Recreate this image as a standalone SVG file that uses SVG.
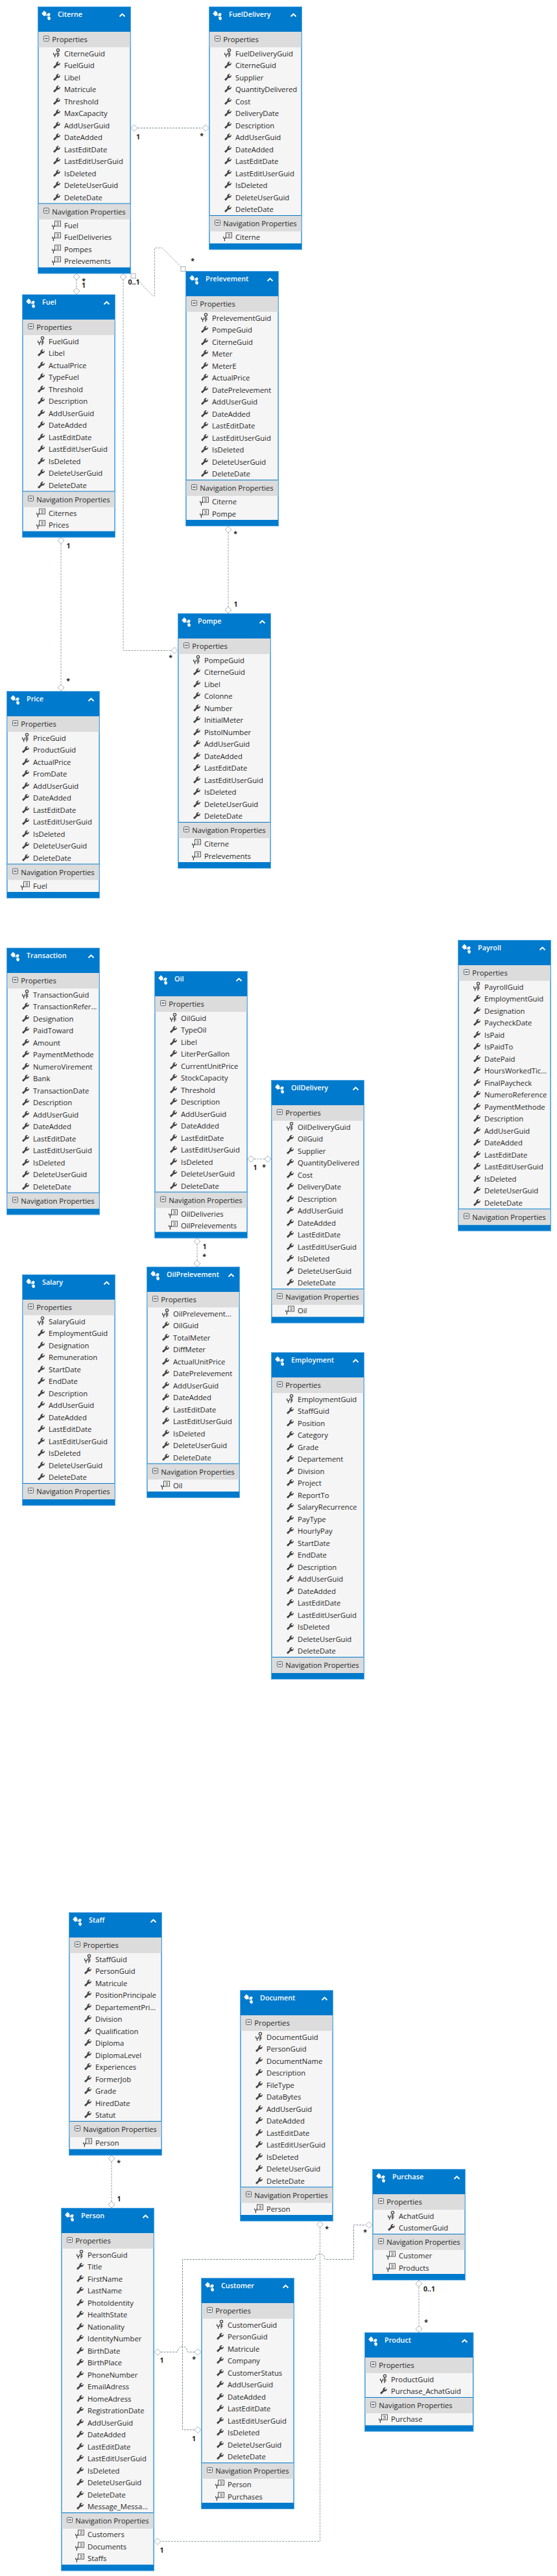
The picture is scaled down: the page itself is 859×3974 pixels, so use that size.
<svg xmlns="http://www.w3.org/2000/svg" width="859" height="3974" viewBox="0 0 859 3974">
<style>
text{font-family:"Open Sans","Noto Sans","Liberation Sans",sans-serif;font-size:11.25px;fill:#262626}
.t{font-size:10.8px;font-weight:600;fill:#fff}
.o{fill:#007acc;stroke:#5aa9e3;stroke-width:1}
.b{fill:#f5f5f5}
.p{fill:#dcdcdc}
.l{fill:#0078cc}
.c{fill:none;stroke:#98a2ac;stroke-width:1;stroke-dasharray:3 1.5}
.c2{stroke:#7f8b96}
.n{font-size:10.5px;font-weight:700;fill:#1e1e1e;text-anchor:middle}
.d{fill:#fff;stroke:#a6aeb6;stroke-width:1}
</style>
<defs>
<path id="w" fill="#424242" d="M24 -1.5L28.5 -5.5C28 -8 30 -10.5 33 -10L30.8 -7.6L32.3 -6L34.8 -8.2C35.2 -5 33 -3.2 30.3 -3.8L26 .8Z"/>
<g id="k" fill="none" stroke="#424242" stroke-width="1.3"><circle cx="31.5" cy="-9.5" r="2.1"/><path d="M31 -7.5V1.2M31 -4.5H33.5M31 -2H33.5M24.6 -5.5V-3.2L26.6 -1.6V1.5M28.6 -5.5V-3.2L26.6 -1.6"/></g>
<g id="v"><rect x="26.5" y="-11" width="9" height="8" fill="#f5f5f5" stroke="#555" stroke-width="1"/><path d="M29 -8.6H33M30 -6.8H33.5M29 -5H33" stroke="#555" stroke-width=".8" fill="none"/><path d="M22.6 -5V-3.4L24.4 -2V2M26.2 -5V-3.4L24.4 -2" stroke="#424242" stroke-width="1.2" fill="none"/></g>
<g id="m"><rect x="9.5" y="0.5" width="8" height="8" rx="1" fill="#e4e4e4" stroke="#5a6a78" stroke-width="1"/><path d="M11.5 4.5H15.5" stroke="#333" stroke-width="1.2"/></g>
<g id="e" fill="#fff"><path d="M6.2 11L10 6.6L13.4 9.4V13.2L10 15Z"/><path d="M14 12L17.4 9.8L19.8 11.4L18.6 14.6L16 14.8Z"/><path d="M14.8 17L18 15.6L20.2 17.6L19 21L16 20.6Z"/><path d="M12.4 13L15.8 15M17.6 14L17.4 17" stroke="#fff" stroke-width="1"/></g>
<path id="h" d="M126.5 15.5L130.5 11.5L134.5 15.5" fill="none" stroke="#fff" stroke-width="1.9"/>
<g id="top"><rect class="p" x="1.5" y="39" width="141" height="24"/><use href="#m" y="45"/><use href="#e"/><use href="#h"/></g>
<g id="nb"><rect class="p" x="1.5" y="1" width="141" height="24"/><rect class="l" x="1.5" y="0" width="141" height="1"/><use href="#m" y="7"/></g>
<polygon id="dm" class="d" points="0,-5 5,0 0,5 -5,0"/>
<rect id="sq" class="d" x="-3.5" y="-3.5" width="7" height="7"/>
</defs>
<g id="connectors">
<path class="c c2" d="M212 197.5H312"/>
<path class="c" d="M118 431V444"/>
<path class="c" d="M190 431V1003.5H264"/>
<path class="c" d="M208 428L236 456.5H238.5V382.5H250L280 412.5"/>
<path class="c" d="M352 821V936"/>
<path class="c" d="M94 839V1056"/>
<path class="c" d="M392 1788H408"/>
<path class="c" d="M304 1919V1944"/>
<path class="c" d="M172 3335V3396"/>
<path class="c c2" d="M248 3628.5H273C274 3628.5 274.5 3627 274.5 3625.5C275 3622 278 3620 281.5 3620C285 3620 288 3622 288.5 3625.5C288.5 3627 289 3628.5 290 3628.5H300"/>
<path class="c c2" d="M300 3748.5H281.5V3485.5H485C486 3485.5 486.5 3484 486.5 3482.5C487 3479 490 3477 493.5 3477C497 3477 500 3479 500.5 3482.5C500.5 3484 501 3485.5 502 3485.5H545.5V3432.5H564"/>
<path class="c" d="M493.5 3436V3920.5H248"/>
<path class="c" d="M646 3528V3588"/>
<use href="#dm" x="207" y="197.5"/><use href="#dm" x="317" y="197.5"/>
<use href="#dm" x="118" y="427"/><use href="#dm" x="118" y="449"/>
<use href="#dm" x="190" y="427"/><use href="#dm" x="269" y="1003.5"/>
<use href="#sq" x="205.5" y="425.5"/><use href="#sq" x="282.5" y="415"/>
<use href="#dm" x="352" y="817"/><use href="#dm" x="352" y="941"/>
<use href="#dm" x="94" y="834"/><use href="#dm" x="94" y="1061"/>
<use href="#dm" x="387" y="1788"/><use href="#dm" x="413" y="1788"/>
<use href="#dm" x="304" y="1915"/><use href="#dm" x="304" y="1949"/>
<use href="#dm" x="172" y="3330"/><use href="#dm" x="172" y="3401"/>
<use href="#dm" x="243" y="3628.5"/><use href="#dm" x="305" y="3628.5"/>
<use href="#dm" x="305" y="3748.5"/><use href="#dm" x="569" y="3432.5"/>
<use href="#dm" x="493.5" y="3431.5"/><use href="#dm" x="243" y="3920.5"/>
<use href="#dm" x="646" y="3523"/><use href="#dm" x="646" y="3593"/>
<text class="n" x="213" y="215">1</text><text class="n" x="311" y="213">*</text>
<text class="n" x="129" y="437">*</text><text class="n" x="129" y="444">1</text>
<text class="n" x="206.5" y="439">0..1</text><text class="n" x="263" y="1018">*</text>
<text class="n" x="297" y="406">*</text>
<text class="n" x="363" y="827">*</text><text class="n" x="363.5" y="936">1</text>
<text class="n" x="105.5" y="846">1</text><text class="n" x="105" y="1054">*</text>
<text class="n" x="393.5" y="1805">1</text><text class="n" x="407" y="1804">*</text>
<text class="n" x="315.5" y="1927">1</text><text class="n" x="315" y="1942">*</text>
<text class="n" x="183" y="3340">*</text><text class="n" x="183.5" y="3396">1</text>
<text class="n" x="249.5" y="3645">1</text><text class="n" x="299" y="3643">*</text>
<text class="n" x="299" y="3766">1</text><text class="n" x="563" y="3447">*</text>
<text class="n" x="504" y="3442">*</text><text class="n" x="249.5" y="3938">1</text>
<text class="n" x="662" y="3535">0..1</text><text class="n" x="657" y="3586">*</text>
</g>
<g id="Citerne" transform="translate(58,10)"><rect class="o" x=".5" y=".5" width="143" height="411.5"/><rect class="b" x="1.5" y="39" width="141" height="363.5"/><use href="#top"/><text class="t" x="31" y="16">Citerne</text><text x="22.3" y="55">Properties</text>
<use href="#k" y="77"/><text x="41" y="77">CiterneGuid</text>
<use href="#w" y="95"/><text x="41" y="95">FuelGuid</text>
<use href="#w" y="114"/><text x="41" y="114">Libel</text>
<use href="#w" y="132"/><text x="41" y="132">Matricule</text>
<use href="#w" y="151"/><text x="41" y="151">Threshold</text>
<use href="#w" y="169"/><text x="41" y="169">MaxCapacity</text>
<use href="#w" y="188"/><text x="41" y="188">AddUserGuid</text>
<use href="#w" y="206"/><text x="41" y="206">DateAdded</text>
<use href="#w" y="225"/><text x="41" y="225">LastEditDate</text>
<use href="#w" y="243"/><text x="41" y="243">LastEditUserGuid</text>
<use href="#w" y="262"/><text x="41" y="262">IsDeleted</text>
<use href="#w" y="280"/><text x="41" y="280">DeleteUserGuid</text>
<use href="#w" y="299"/><text x="41" y="299">DeleteDate</text>
<use href="#nb" y="303.5"/><text x="22.3" y="320.5">Navigation Properties</text>
<use href="#v" y="342"/><text x="41" y="342">Fuel</text>
<use href="#v" y="360"/><text x="41" y="360">FuelDeliveries</text>
<use href="#v" y="379"/><text x="41" y="379">Pompes</text>
<use href="#v" y="397"/><text x="41" y="397">Prelevements</text></g>
<g id="FuelDelivery" transform="translate(322,10)"><rect class="o" x=".5" y=".5" width="143" height="374.5"/><rect class="b" x="1.5" y="39" width="141" height="326.5"/><use href="#top"/><text class="t" x="31" y="16">FuelDelivery</text><text x="22.3" y="55">Properties</text>
<use href="#k" y="77"/><text x="41" y="77">FuelDeliveryGuid</text>
<use href="#w" y="95"/><text x="41" y="95">CiterneGuid</text>
<use href="#w" y="114"/><text x="41" y="114">Supplier</text>
<use href="#w" y="132"/><text x="41" y="132">QuantityDelivered</text>
<use href="#w" y="151"/><text x="41" y="151">Cost</text>
<use href="#w" y="169"/><text x="41" y="169">DeliveryDate</text>
<use href="#w" y="188"/><text x="41" y="188">Description</text>
<use href="#w" y="206"/><text x="41" y="206">AddUserGuid</text>
<use href="#w" y="225"/><text x="41" y="225">DateAdded</text>
<use href="#w" y="243"/><text x="41" y="243">LastEditDate</text>
<use href="#w" y="262"/><text x="41" y="262">LastEditUserGuid</text>
<use href="#w" y="280"/><text x="41" y="280">IsDeleted</text>
<use href="#w" y="299"/><text x="41" y="299">DeleteUserGuid</text>
<use href="#w" y="317"/><text x="41" y="317">DeleteDate</text>
<use href="#nb" y="322"/><text x="22.3" y="339">Navigation Properties</text>
<use href="#v" y="360"/><text x="41" y="360">Citerne</text></g>
<g id="Prelevement" transform="translate(286,418)"><rect class="o" x=".5" y=".5" width="143" height="393"/><rect class="b" x="1.5" y="39" width="141" height="345"/><use href="#top"/><text class="t" x="31" y="16">Prelevement</text><text x="22.3" y="55">Properties</text>
<use href="#k" y="77"/><text x="41" y="77">PrelevementGuid</text>
<use href="#w" y="95"/><text x="41" y="95">PompeGuid</text>
<use href="#w" y="114"/><text x="41" y="114">CiterneGuid</text>
<use href="#w" y="132"/><text x="41" y="132">Meter</text>
<use href="#w" y="151"/><text x="41" y="151">MeterE</text>
<use href="#w" y="169"/><text x="41" y="169">ActualPrice</text>
<use href="#w" y="188"/><text x="41" y="188">DatePrelevement</text>
<use href="#w" y="206"/><text x="41" y="206">AddUserGuid</text>
<use href="#w" y="225"/><text x="41" y="225">DateAdded</text>
<use href="#w" y="243"/><text x="41" y="243">LastEditDate</text>
<use href="#w" y="262"/><text x="41" y="262">LastEditUserGuid</text>
<use href="#w" y="280"/><text x="41" y="280">IsDeleted</text>
<use href="#w" y="299"/><text x="41" y="299">DeleteUserGuid</text>
<use href="#w" y="317"/><text x="41" y="317">DeleteDate</text>
<use href="#nb" y="322"/><text x="22.3" y="339">Navigation Properties</text>
<use href="#v" y="360"/><text x="41" y="360">Citerne</text>
<use href="#v" y="379"/><text x="41" y="379">Pompe</text></g>
<g id="Fuel" transform="translate(34,454)"><rect class="o" x=".5" y=".5" width="143" height="374.5"/><rect class="b" x="1.5" y="39" width="141" height="326.5"/><use href="#top"/><text class="t" x="31" y="16">Fuel</text><text x="22.3" y="55">Properties</text>
<use href="#k" y="77"/><text x="41" y="77">FuelGuid</text>
<use href="#w" y="95"/><text x="41" y="95">Libel</text>
<use href="#w" y="114"/><text x="41" y="114">ActualPrice</text>
<use href="#w" y="132"/><text x="41" y="132">TypeFuel</text>
<use href="#w" y="151"/><text x="41" y="151">Threshold</text>
<use href="#w" y="169"/><text x="41" y="169">Description</text>
<use href="#w" y="188"/><text x="41" y="188">AddUserGuid</text>
<use href="#w" y="206"/><text x="41" y="206">DateAdded</text>
<use href="#w" y="225"/><text x="41" y="225">LastEditDate</text>
<use href="#w" y="243"/><text x="41" y="243">LastEditUserGuid</text>
<use href="#w" y="262"/><text x="41" y="262">IsDeleted</text>
<use href="#w" y="280"/><text x="41" y="280">DeleteUserGuid</text>
<use href="#w" y="299"/><text x="41" y="299">DeleteDate</text>
<use href="#nb" y="303.5"/><text x="22.3" y="320.5">Navigation Properties</text>
<use href="#v" y="342"/><text x="41" y="342">Citernes</text>
<use href="#v" y="360"/><text x="41" y="360">Prices</text></g>
<g id="Price" transform="translate(10,1066)"><rect class="o" x=".5" y=".5" width="143" height="319"/><rect class="b" x="1.5" y="39" width="141" height="271"/><use href="#top"/><text class="t" x="31" y="16">Price</text><text x="22.3" y="55">Properties</text>
<use href="#k" y="77"/><text x="41" y="77">PriceGuid</text>
<use href="#w" y="95"/><text x="41" y="95">ProductGuid</text>
<use href="#w" y="114"/><text x="41" y="114">ActualPrice</text>
<use href="#w" y="132"/><text x="41" y="132">FromDate</text>
<use href="#w" y="151"/><text x="41" y="151">AddUserGuid</text>
<use href="#w" y="169"/><text x="41" y="169">DateAdded</text>
<use href="#w" y="188"/><text x="41" y="188">LastEditDate</text>
<use href="#w" y="206"/><text x="41" y="206">LastEditUserGuid</text>
<use href="#w" y="225"/><text x="41" y="225">IsDeleted</text>
<use href="#w" y="243"/><text x="41" y="243">DeleteUserGuid</text>
<use href="#w" y="262"/><text x="41" y="262">DeleteDate</text>
<use href="#nb" y="266.5"/><text x="22.3" y="283.5">Navigation Properties</text>
<use href="#v" y="305"/><text x="41" y="305">Fuel</text></g>
<g id="Pompe" transform="translate(274,946)"><rect class="o" x=".5" y=".5" width="143" height="393"/><rect class="b" x="1.5" y="39" width="141" height="345"/><use href="#top"/><text class="t" x="31" y="16">Pompe</text><text x="22.3" y="55">Properties</text>
<use href="#k" y="77"/><text x="41" y="77">PompeGuid</text>
<use href="#w" y="95"/><text x="41" y="95">CiterneGuid</text>
<use href="#w" y="114"/><text x="41" y="114">Libel</text>
<use href="#w" y="132"/><text x="41" y="132">Colonne</text>
<use href="#w" y="151"/><text x="41" y="151">Number</text>
<use href="#w" y="169"/><text x="41" y="169">InitialMeter</text>
<use href="#w" y="188"/><text x="41" y="188">PistolNumber</text>
<use href="#w" y="206"/><text x="41" y="206">AddUserGuid</text>
<use href="#w" y="225"/><text x="41" y="225">DateAdded</text>
<use href="#w" y="243"/><text x="41" y="243">LastEditDate</text>
<use href="#w" y="262"/><text x="41" y="262">LastEditUserGuid</text>
<use href="#w" y="280"/><text x="41" y="280">IsDeleted</text>
<use href="#w" y="299"/><text x="41" y="299">DeleteUserGuid</text>
<use href="#w" y="317"/><text x="41" y="317">DeleteDate</text>
<use href="#nb" y="322"/><text x="22.3" y="339">Navigation Properties</text>
<use href="#v" y="360"/><text x="41" y="360">Citerne</text>
<use href="#v" y="379"/><text x="41" y="379">Prelevements</text></g>
<g id="Transaction" transform="translate(10,1462)"><rect class="o" x=".5" y=".5" width="143" height="411.5"/><rect class="b" x="1.5" y="39" width="141" height="363.5"/><use href="#top"/><text class="t" x="31" y="16">Transaction</text><text x="22.3" y="55">Properties</text>
<use href="#k" y="77"/><text x="41" y="77">TransactionGuid</text>
<use href="#w" y="95"/><text x="41" y="95">TransactionRefer...</text>
<use href="#w" y="114"/><text x="41" y="114">Designation</text>
<use href="#w" y="132"/><text x="41" y="132">PaidToward</text>
<use href="#w" y="151"/><text x="41" y="151">Amount</text>
<use href="#w" y="169"/><text x="41" y="169">PaymentMethode</text>
<use href="#w" y="188"/><text x="41" y="188">NumeroVirement</text>
<use href="#w" y="206"/><text x="41" y="206">Bank</text>
<use href="#w" y="225"/><text x="41" y="225">TransactionDate</text>
<use href="#w" y="243"/><text x="41" y="243">Description</text>
<use href="#w" y="262"/><text x="41" y="262">AddUserGuid</text>
<use href="#w" y="280"/><text x="41" y="280">DateAdded</text>
<use href="#w" y="299"/><text x="41" y="299">LastEditDate</text>
<use href="#w" y="317"/><text x="41" y="317">LastEditUserGuid</text>
<use href="#w" y="336"/><text x="41" y="336">IsDeleted</text>
<use href="#w" y="354"/><text x="41" y="354">DeleteUserGuid</text>
<use href="#w" y="373"/><text x="41" y="373">DeleteDate</text>
<use href="#nb" y="377.5"/><text x="22.3" y="394.5">Navigation Properties</text></g>
<g id="Oil" transform="translate(238,1498)"><rect class="o" x=".5" y=".5" width="143" height="411.5"/><rect class="b" x="1.5" y="39" width="141" height="363.5"/><use href="#top"/><text class="t" x="31" y="16">Oil</text><text x="22.3" y="55">Properties</text>
<use href="#k" y="77"/><text x="41" y="77">OilGuid</text>
<use href="#w" y="95"/><text x="41" y="95">TypeOil</text>
<use href="#w" y="114"/><text x="41" y="114">Libel</text>
<use href="#w" y="132"/><text x="41" y="132">LiterPerGallon</text>
<use href="#w" y="151"/><text x="41" y="151">CurrentUnitPrice</text>
<use href="#w" y="169"/><text x="41" y="169">StockCapacity</text>
<use href="#w" y="188"/><text x="41" y="188">Threshold</text>
<use href="#w" y="206"/><text x="41" y="206">Description</text>
<use href="#w" y="225"/><text x="41" y="225">AddUserGuid</text>
<use href="#w" y="243"/><text x="41" y="243">DateAdded</text>
<use href="#w" y="262"/><text x="41" y="262">LastEditDate</text>
<use href="#w" y="280"/><text x="41" y="280">LastEditUserGuid</text>
<use href="#w" y="299"/><text x="41" y="299">IsDeleted</text>
<use href="#w" y="317"/><text x="41" y="317">DeleteUserGuid</text>
<use href="#w" y="336"/><text x="41" y="336">DeleteDate</text>
<use href="#nb" y="340.5"/><text x="22.3" y="357.5">Navigation Properties</text>
<use href="#v" y="379"/><text x="41" y="379">OilDeliveries</text>
<use href="#v" y="397"/><text x="41" y="397">OilPrelevements</text></g>
<g id="OilDelivery" transform="translate(418,1666)"><rect class="o" x=".5" y=".5" width="143" height="374.5"/><rect class="b" x="1.5" y="39" width="141" height="326.5"/><use href="#top"/><text class="t" x="31" y="16">OilDelivery</text><text x="22.3" y="55">Properties</text>
<use href="#k" y="77"/><text x="41" y="77">OilDeliveryGuid</text>
<use href="#w" y="95"/><text x="41" y="95">OilGuid</text>
<use href="#w" y="114"/><text x="41" y="114">Supplier</text>
<use href="#w" y="132"/><text x="41" y="132">QuantityDelivered</text>
<use href="#w" y="151"/><text x="41" y="151">Cost</text>
<use href="#w" y="169"/><text x="41" y="169">DeliveryDate</text>
<use href="#w" y="188"/><text x="41" y="188">Description</text>
<use href="#w" y="206"/><text x="41" y="206">AddUserGuid</text>
<use href="#w" y="225"/><text x="41" y="225">DateAdded</text>
<use href="#w" y="243"/><text x="41" y="243">LastEditDate</text>
<use href="#w" y="262"/><text x="41" y="262">LastEditUserGuid</text>
<use href="#w" y="280"/><text x="41" y="280">IsDeleted</text>
<use href="#w" y="299"/><text x="41" y="299">DeleteUserGuid</text>
<use href="#w" y="317"/><text x="41" y="317">DeleteDate</text>
<use href="#nb" y="322"/><text x="22.3" y="339">Navigation Properties</text>
<use href="#v" y="360"/><text x="41" y="360">Oil</text></g>
<g id="Payroll" transform="translate(706,1450)"><rect class="o" x=".5" y=".5" width="143" height="448.5"/><rect class="b" x="1.5" y="39" width="141" height="400.5"/><use href="#top"/><text class="t" x="31" y="16">Payroll</text><text x="22.3" y="55">Properties</text>
<use href="#k" y="77"/><text x="41" y="77">PayrollGuid</text>
<use href="#w" y="95"/><text x="41" y="95">EmploymentGuid</text>
<use href="#w" y="114"/><text x="41" y="114">Designation</text>
<use href="#w" y="132"/><text x="41" y="132">PaycheckDate</text>
<use href="#w" y="151"/><text x="41" y="151">IsPaid</text>
<use href="#w" y="169"/><text x="41" y="169">IsPaidTo</text>
<use href="#w" y="188"/><text x="41" y="188">DatePaid</text>
<use href="#w" y="206"/><text x="41" y="206">HoursWorkedTic...</text>
<use href="#w" y="225"/><text x="41" y="225">FinalPaycheck</text>
<use href="#w" y="243"/><text x="41" y="243">NumeroReference</text>
<use href="#w" y="262"/><text x="41" y="262">PaymentMethode</text>
<use href="#w" y="280"/><text x="41" y="280">Description</text>
<use href="#w" y="299"/><text x="41" y="299">AddUserGuid</text>
<use href="#w" y="317"/><text x="41" y="317">DateAdded</text>
<use href="#w" y="336"/><text x="41" y="336">LastEditDate</text>
<use href="#w" y="354"/><text x="41" y="354">LastEditUserGuid</text>
<use href="#w" y="373"/><text x="41" y="373">IsDeleted</text>
<use href="#w" y="391"/><text x="41" y="391">DeleteUserGuid</text>
<use href="#w" y="410"/><text x="41" y="410">DeleteDate</text>
<use href="#nb" y="414.5"/><text x="22.3" y="431.5">Navigation Properties</text></g>
<g id="Salary" transform="translate(34,1966)"><rect class="o" x=".5" y=".5" width="143" height="356"/><rect class="b" x="1.5" y="39" width="141" height="308"/><use href="#top"/><text class="t" x="31" y="16">Salary</text><text x="22.3" y="55">Properties</text>
<use href="#k" y="77"/><text x="41" y="77">SalaryGuid</text>
<use href="#w" y="95"/><text x="41" y="95">EmploymentGuid</text>
<use href="#w" y="114"/><text x="41" y="114">Designation</text>
<use href="#w" y="132"/><text x="41" y="132">Remuneration</text>
<use href="#w" y="151"/><text x="41" y="151">StartDate</text>
<use href="#w" y="169"/><text x="41" y="169">EndDate</text>
<use href="#w" y="188"/><text x="41" y="188">Description</text>
<use href="#w" y="206"/><text x="41" y="206">AddUserGuid</text>
<use href="#w" y="225"/><text x="41" y="225">DateAdded</text>
<use href="#w" y="243"/><text x="41" y="243">LastEditDate</text>
<use href="#w" y="262"/><text x="41" y="262">LastEditUserGuid</text>
<use href="#w" y="280"/><text x="41" y="280">IsDeleted</text>
<use href="#w" y="299"/><text x="41" y="299">DeleteUserGuid</text>
<use href="#w" y="317"/><text x="41" y="317">DeleteDate</text>
<use href="#nb" y="322"/><text x="22.3" y="339">Navigation Properties</text></g>
<g id="OilPrelevement" transform="translate(226,1954)"><rect class="o" x=".5" y=".5" width="143" height="356"/><rect class="b" x="1.5" y="39" width="141" height="308"/><use href="#top"/><text class="t" x="31" y="16">OilPrelevement</text><text x="22.3" y="55">Properties</text>
<use href="#k" y="77"/><text x="41" y="77">OilPrelevement...</text>
<use href="#w" y="95"/><text x="41" y="95">OilGuid</text>
<use href="#w" y="114"/><text x="41" y="114">TotalMeter</text>
<use href="#w" y="132"/><text x="41" y="132">DiffMeter</text>
<use href="#w" y="151"/><text x="41" y="151">ActualUnitPrice</text>
<use href="#w" y="169"/><text x="41" y="169">DatePrelevement</text>
<use href="#w" y="188"/><text x="41" y="188">AddUserGuid</text>
<use href="#w" y="206"/><text x="41" y="206">DateAdded</text>
<use href="#w" y="225"/><text x="41" y="225">LastEditDate</text>
<use href="#w" y="243"/><text x="41" y="243">LastEditUserGuid</text>
<use href="#w" y="262"/><text x="41" y="262">IsDeleted</text>
<use href="#w" y="280"/><text x="41" y="280">DeleteUserGuid</text>
<use href="#w" y="299"/><text x="41" y="299">DeleteDate</text>
<use href="#nb" y="303.5"/><text x="22.3" y="320.5">Navigation Properties</text>
<use href="#v" y="342"/><text x="41" y="342">Oil</text></g>
<g id="Employment" transform="translate(418,2086)"><rect class="o" x=".5" y=".5" width="143" height="504"/><rect class="b" x="1.5" y="39" width="141" height="456"/><use href="#top"/><text class="t" x="31" y="16">Employment</text><text x="22.3" y="55">Properties</text>
<use href="#k" y="77"/><text x="41" y="77">EmploymentGuid</text>
<use href="#w" y="95"/><text x="41" y="95">StaffGuid</text>
<use href="#w" y="114"/><text x="41" y="114">Position</text>
<use href="#w" y="132"/><text x="41" y="132">Category</text>
<use href="#w" y="151"/><text x="41" y="151">Grade</text>
<use href="#w" y="169"/><text x="41" y="169">Departement</text>
<use href="#w" y="188"/><text x="41" y="188">Division</text>
<use href="#w" y="206"/><text x="41" y="206">Project</text>
<use href="#w" y="225"/><text x="41" y="225">ReportTo</text>
<use href="#w" y="243"/><text x="41" y="243">SalaryRecurrence</text>
<use href="#w" y="262"/><text x="41" y="262">PayType</text>
<use href="#w" y="280"/><text x="41" y="280">HourlyPay</text>
<use href="#w" y="299"/><text x="41" y="299">StartDate</text>
<use href="#w" y="317"/><text x="41" y="317">EndDate</text>
<use href="#w" y="336"/><text x="41" y="336">Description</text>
<use href="#w" y="354"/><text x="41" y="354">AddUserGuid</text>
<use href="#w" y="373"/><text x="41" y="373">DateAdded</text>
<use href="#w" y="391"/><text x="41" y="391">LastEditDate</text>
<use href="#w" y="410"/><text x="41" y="410">LastEditUserGuid</text>
<use href="#w" y="428"/><text x="41" y="428">IsDeleted</text>
<use href="#w" y="447"/><text x="41" y="447">DeleteUserGuid</text>
<use href="#w" y="465"/><text x="41" y="465">DeleteDate</text>
<use href="#nb" y="470"/><text x="22.3" y="487">Navigation Properties</text></g>
<g id="Staff" transform="translate(106,2950)"><rect class="o" x=".5" y=".5" width="143" height="374.5"/><rect class="b" x="1.5" y="39" width="141" height="326.5"/><use href="#top"/><text class="t" x="31" y="16">Staff</text><text x="22.3" y="55">Properties</text>
<use href="#k" y="77"/><text x="41" y="77">StaffGuid</text>
<use href="#w" y="95"/><text x="41" y="95">PersonGuid</text>
<use href="#w" y="114"/><text x="41" y="114">Matricule</text>
<use href="#w" y="132"/><text x="41" y="132">PositionPrincipale</text>
<use href="#w" y="151"/><text x="41" y="151">DepartementPri...</text>
<use href="#w" y="169"/><text x="41" y="169">Division</text>
<use href="#w" y="188"/><text x="41" y="188">Qualification</text>
<use href="#w" y="206"/><text x="41" y="206">Diploma</text>
<use href="#w" y="225"/><text x="41" y="225">DiplomaLevel</text>
<use href="#w" y="243"/><text x="41" y="243">Experiences</text>
<use href="#w" y="262"/><text x="41" y="262">FormerJob</text>
<use href="#w" y="280"/><text x="41" y="280">Grade</text>
<use href="#w" y="299"/><text x="41" y="299">HiredDate</text>
<use href="#w" y="317"/><text x="41" y="317">Statut</text>
<use href="#nb" y="322"/><text x="22.3" y="339">Navigation Properties</text>
<use href="#v" y="360"/><text x="41" y="360">Person</text></g>
<g id="Person" transform="translate(94,3406)"><rect class="o" x=".5" y=".5" width="143" height="559.5"/><rect class="b" x="1.5" y="39" width="141" height="511.5"/><use href="#top"/><text class="t" x="31" y="16">Person</text><text x="22.3" y="55">Properties</text>
<use href="#k" y="77"/><text x="41" y="77">PersonGuid</text>
<use href="#w" y="95"/><text x="41" y="95">Title</text>
<use href="#w" y="114"/><text x="41" y="114">FirstName</text>
<use href="#w" y="132"/><text x="41" y="132">LastName</text>
<use href="#w" y="151"/><text x="41" y="151">PhotoIdentity</text>
<use href="#w" y="169"/><text x="41" y="169">HealthState</text>
<use href="#w" y="188"/><text x="41" y="188">Nationality</text>
<use href="#w" y="206"/><text x="41" y="206">IdentityNumber</text>
<use href="#w" y="225"/><text x="41" y="225">BirthDate</text>
<use href="#w" y="243"/><text x="41" y="243">BirthPlace</text>
<use href="#w" y="262"/><text x="41" y="262">PhoneNumber</text>
<use href="#w" y="280"/><text x="41" y="280">EmailAdress</text>
<use href="#w" y="299"/><text x="41" y="299">HomeAdress</text>
<use href="#w" y="317"/><text x="41" y="317">RegistrationDate</text>
<use href="#w" y="336"/><text x="41" y="336">AddUserGuid</text>
<use href="#w" y="354"/><text x="41" y="354">DateAdded</text>
<use href="#w" y="373"/><text x="41" y="373">LastEditDate</text>
<use href="#w" y="391"/><text x="41" y="391">LastEditUserGuid</text>
<use href="#w" y="410"/><text x="41" y="410">IsDeleted</text>
<use href="#w" y="428"/><text x="41" y="428">DeleteUserGuid</text>
<use href="#w" y="447"/><text x="41" y="447">DeleteDate</text>
<use href="#w" y="465"/><text x="41" y="465">Message_Messa...</text>
<use href="#nb" y="470"/><text x="22.3" y="487">Navigation Properties</text>
<use href="#v" y="508"/><text x="41" y="508">Customers</text>
<use href="#v" y="527"/><text x="41" y="527">Documents</text>
<use href="#v" y="545"/><text x="41" y="545">Staffs</text></g>
<g id="Document" transform="translate(370,3070)"><rect class="o" x=".5" y=".5" width="143" height="356"/><rect class="b" x="1.5" y="39" width="141" height="308"/><use href="#top"/><text class="t" x="31" y="16">Document</text><text x="22.3" y="55">Properties</text>
<use href="#k" y="77"/><text x="41" y="77">DocumentGuid</text>
<use href="#w" y="95"/><text x="41" y="95">PersonGuid</text>
<use href="#w" y="114"/><text x="41" y="114">DocumentName</text>
<use href="#w" y="132"/><text x="41" y="132">Description</text>
<use href="#w" y="151"/><text x="41" y="151">FileType</text>
<use href="#w" y="169"/><text x="41" y="169">DataBytes</text>
<use href="#w" y="188"/><text x="41" y="188">AddUserGuid</text>
<use href="#w" y="206"/><text x="41" y="206">DateAdded</text>
<use href="#w" y="225"/><text x="41" y="225">LastEditDate</text>
<use href="#w" y="243"/><text x="41" y="243">LastEditUserGuid</text>
<use href="#w" y="262"/><text x="41" y="262">IsDeleted</text>
<use href="#w" y="280"/><text x="41" y="280">DeleteUserGuid</text>
<use href="#w" y="299"/><text x="41" y="299">DeleteDate</text>
<use href="#nb" y="303.5"/><text x="22.3" y="320.5">Navigation Properties</text>
<use href="#v" y="342"/><text x="41" y="342">Person</text></g>
<g id="Customer" transform="translate(310,3514)"><rect class="o" x=".5" y=".5" width="143" height="356"/><rect class="b" x="1.5" y="39" width="141" height="308"/><use href="#top"/><text class="t" x="31" y="16">Customer</text><text x="22.3" y="55">Properties</text>
<use href="#k" y="77"/><text x="41" y="77">CustomerGuid</text>
<use href="#w" y="95"/><text x="41" y="95">PersonGuid</text>
<use href="#w" y="114"/><text x="41" y="114">Matricule</text>
<use href="#w" y="132"/><text x="41" y="132">Company</text>
<use href="#w" y="151"/><text x="41" y="151">CustomerStatus</text>
<use href="#w" y="169"/><text x="41" y="169">AddUserGuid</text>
<use href="#w" y="188"/><text x="41" y="188">DateAdded</text>
<use href="#w" y="206"/><text x="41" y="206">LastEditDate</text>
<use href="#w" y="225"/><text x="41" y="225">LastEditUserGuid</text>
<use href="#w" y="243"/><text x="41" y="243">IsDeleted</text>
<use href="#w" y="262"/><text x="41" y="262">DeleteUserGuid</text>
<use href="#w" y="280"/><text x="41" y="280">DeleteDate</text>
<use href="#nb" y="285"/><text x="22.3" y="302">Navigation Properties</text>
<use href="#v" y="323"/><text x="41" y="323">Person</text>
<use href="#v" y="342"/><text x="41" y="342">Purchases</text></g>
<g id="Purchase" transform="translate(574,3346)"><rect class="o" x=".5" y=".5" width="143" height="171"/><rect class="b" x="1.5" y="39" width="141" height="123"/><use href="#top"/><text class="t" x="31" y="16">Purchase</text><text x="22.3" y="55">Properties</text>
<use href="#k" y="77"/><text x="41" y="77">AchatGuid</text>
<use href="#w" y="95"/><text x="41" y="95">CustomerGuid</text>
<use href="#nb" y="100"/><text x="22.3" y="117">Navigation Properties</text>
<use href="#v" y="138"/><text x="41" y="138">Customer</text>
<use href="#v" y="157"/><text x="41" y="157">Products</text></g>
<g id="Product" transform="translate(562,3598)"><rect class="o" x=".5" y=".5" width="167.5" height="152.5"/><rect class="b" x="1.5" y="39" width="165.5" height="104.5"/><rect class="p" x="1.5" y="39" width="165.5" height="24"/><use href="#m" y="45"/><use href="#e"/><use href="#h" x="24"/><text class="t" x="31" y="16">Product</text><text x="22.3" y="55">Properties</text>
<use href="#k" y="77"/><text x="41" y="77">ProductGuid</text>
<use href="#w" y="95"/><text x="41" y="95">Purchase_AchatGuid</text>
<rect class="p" x="1.5" y="101" width="165.5" height="24"/><rect class="l" x="1.5" y="100" width="165.5" height="1"/><use href="#m" y="107"/><text x="22.3" y="117">Navigation Properties</text>
<use href="#v" y="138"/><text x="41" y="138">Purchase</text></g>
</svg>
